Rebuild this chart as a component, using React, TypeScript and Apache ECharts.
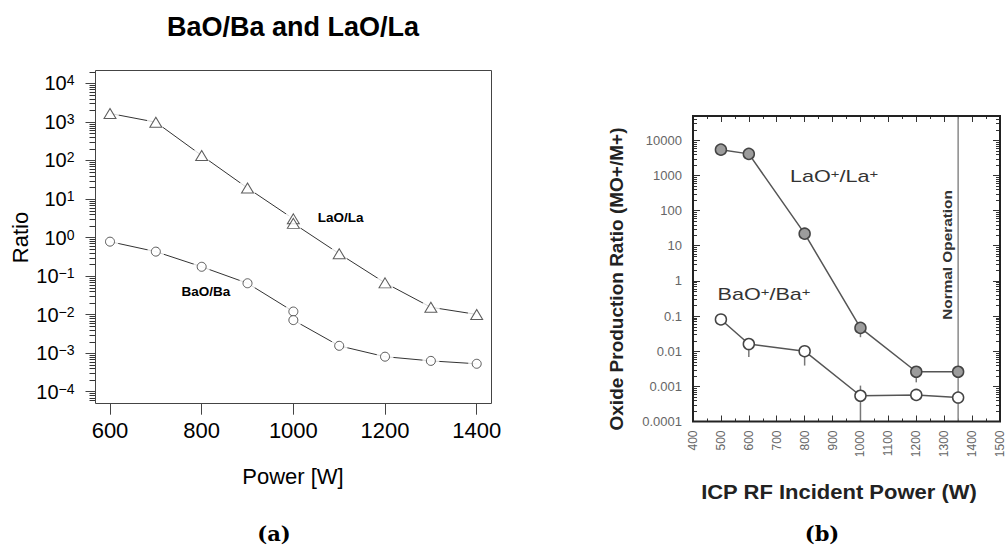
import React, { useEffect, useRef } from 'react';
import * as echarts from 'echarts';

// ---------- Panel (a): BaO/Ba and LaO/La ----------
const powerA = [600, 700, 800, 900, 1000, 1000, 1100, 1200, 1300, 1400];
const laoA = [1650, 980, 134, 19.2, 3.05, 2.33, 0.38, 0.0665, 0.0155, 0.0101];
const baoA = [0.78, 0.43, 0.174, 0.065, 0.012, 0.0072, 0.00155, 0.00081, 0.00063, 0.00053];
const xMinA = 600;
const xMaxA = 1400;
const yMinA = 1e-4;
const yMaxA = 1e4;
// minor log ticks shown inside the frame (slightly beyond the decade range)
const minorRangeA = [5.5e-5, 2.05e4];

// ---------- Panel (b): oxide production ratio ----------
const powerB = [500, 600, 800, 1000, 1200, 1350];
const laoB = [5400, 4100, 22, 0.046, 0.0026, 0.0026];
const baoB = [0.08, 0.016, 0.01, 0.00054, 0.00057, 0.00048];
// error bars: [power, low, high]
const laoBErr = [
  [1000, 0.025, 0.046],
  [1200, 0.0013, 0.0026],
];
const baoBErr = [
  [600, 0.0068, 0.016],
  [800, 0.0039, 0.013],
  [1000, 0.0001, 0.00105],
  [1200, 0.00044, 0.00057],
];
const normalOperationPower = [1350];
const xMinB = 400;
const xMaxB = 1500;
const yMinB = 1e-4;
const yMaxB = 49000;

const SANS = '"Liberation Sans", Arial, Helvetica, sans-serif';
const SERIF = '"DejaVu Serif", "Liberation Serif", serif';

const pairs = (xs: number[], ys: number[]) => xs.map((x, i) => [x, ys[i]]);

const minorTickValues = (lo: number, hi: number) => {
  const out: number[] = [];
  const e0 = Math.floor(Math.log10(lo));
  const e1 = Math.ceil(Math.log10(hi));
  for (let e = e0; e <= e1; e++) {
    for (let m = 2; m <= 9; m++) {
      const v = m * Math.pow(10, e);
      if (v >= lo && v <= hi) out.push(v);
    }
  }
  return out;
};

const decade = (v: number): number | null => {
  const e = Math.log10(v);
  const r = Math.round(e);
  return Math.abs(e - r) < 1e-6 ? r : null;
};

const superLabel = (v: number) => {
  const r = decade(v);
  if (r === null) return '';
  return `{b|10}{s|${r < 0 ? '\u2212' + -r : r}}`;
};

const plainLabel = (v: number) => {
  const r = decade(v);
  if (r === null) return '';
  return r >= 0 ? String(Math.pow(10, r)) : '0.' + '0'.repeat(-r - 1) + '1';
};

// vertical segment from [x, low] to [x, high]
const barRender = (color: string) => (params: any, api: any) => {
  const x = api.value(0);
  const p1 = api.coord([x, api.value(1)]);
  const p2 = api.coord([x, api.value(2)]);
  return {
    type: 'line',
    shape: { x1: p1[0], y1: p1[1], x2: p2[0], y2: p2[1] },
    style: { stroke: color, lineWidth: 1.5 },
  };
};

const txt = (
  x: number,
  y: number,
  text: string,
  size: number,
  opts: any = {}
) => ({
  type: 'text',
  x,
  y,
  z: 100,
  rotation: opts.rotation || 0,
  scaleX: opts.scaleX || 1,
  silent: true,
  style: {
    text,
    fontSize: size,
    fontWeight: opts.bold ? 'bold' : 'normal',
    fontFamily: opts.family || SANS,
    fill: opts.color || '#000',
    align: 'center',
    verticalAlign: 'middle',
    textAlign: 'center',
    textVerticalAlign: 'middle',
    rich: opts.rich,
  },
});

const supRich = (size: number, color: string) => ({
  a: { fontSize: size, fontFamily: SANS, fill: color, color, lineHeight: size, verticalAlign: 'bottom', padding: [6, 0, 0, 0] },
  s: { fontSize: Math.round(size * 0.7), fontFamily: SANS, fill: color, color, lineHeight: Math.round(size * 0.7), verticalAlign: 'top' },
});

export default function App() {
  const ref = useRef<HTMLDivElement>(null);

  useEffect(() => {
    if (!ref.current) return;
    const chart = echarts.init(ref.current, null, { renderer: 'svg' });

    const tickA = { color: '#444', width: 1 };
    const tickB = { color: '#333', width: 1 };

    const staticGraphics = [
      // boxes
      {
        type: 'rect', z: 50, silent: true,
        shape: { x: 95.5, y: 70.5, width: 396, height: 333 },
        style: { fill: 'none', stroke: '#444', lineWidth: 1 },
      },
      {
        type: 'rect', z: 50, silent: true,
        shape: { x: 693, y: 116, width: 307, height: 305.5 },
        style: { fill: 'none', stroke: '#222', lineWidth: 2 },
      },
      // panel (a) texts
      txt(293, 27, 'BaO/Ba and LaO/La', 27, { bold: true }),
      txt(20, 237.5, 'Ratio', 22, { rotation: Math.PI / 2 }),
      txt(293, 476.5, 'Power [W]', 22),
      txt(340.7, 217.3, 'LaO/La', 13.5, { bold: true }),
      txt(205.8, 291, 'BaO/Ba', 13.5, { bold: true }),
      txt(274, 533, '(a)', 21, { bold: true, family: SERIF }),
      // panel (b) texts
      txt(616, 279, 'Oxide Production Ratio (MO+/M+)', 19, { bold: true, rotation: Math.PI / 2, color: '#222' }),
      txt(839, 492, 'ICP RF Incident Power (W)', 20, { bold: true, color: '#222', scaleX: 1.1 }),
      txt(948, 255, 'Normal Operation', 12, { bold: true, rotation: Math.PI / 2, color: '#333', scaleX: 1.28 }),
      txt(834, 177, '{a|LaO}{s|+}{a|/La}{s|+}', 16, { color: '#333', scaleX: 1.35, rich: supRich(16, '#333') }),
      txt(764, 295, '{a|BaO}{s|+}{a|/Ba}{s|+}', 16, { color: '#333', scaleX: 1.35, rich: supRich(16, '#333') }),
      txt(822, 533, '(b)', 21, { bold: true, family: SERIF }),
    ];

    const option: any = {
      animation: false,
      backgroundColor: '#fff',
      grid: [
        { left: 110, top: 83.3, width: 366.7, height: 308.4, containLabel: false, outerBoundsMode: 'none' },
        { left: 693, top: 116, width: 307, height: 305.5, containLabel: false, outerBoundsMode: 'none' },
      ],
      xAxis: [
        {
          gridIndex: 0,
          type: 'value',
          min: xMinA,
          max: xMaxA,
          interval: 200,
          offset: 12,
          axisLine: { show: false },
          axisTick: { show: true, length: 11, lineStyle: tickA },
          axisLabel: { fontSize: 22, color: '#000', fontFamily: SANS, margin: 16, formatter: (v: number) => String(v) },
          splitLine: { show: false },
        },
        {
          gridIndex: 1,
          type: 'value',
          min: xMinB,
          max: xMaxB,
          interval: 100,
          position: 'bottom',
          axisLine: { show: false },
          axisTick: { show: true, inside: true, length: 6, lineStyle: tickB },
          minorTick: { show: true, splitNumber: 2, length: 3, lineStyle: tickB },
          axisLabel: { rotate: 90, fontSize: 12, color: '#666', fontFamily: SANS, margin: 9, formatter: (v: number) => String(v) },
          splitLine: { show: false },
        },
        {
          gridIndex: 1,
          type: 'value',
          min: xMinB,
          max: xMaxB,
          interval: 100,
          position: 'top',
          axisLine: { show: false },
          axisTick: { show: true, inside: true, length: 6, lineStyle: tickB },
          minorTick: { show: true, splitNumber: 2, length: 3, lineStyle: tickB },
          axisLabel: { show: false },
          splitLine: { show: false },
        },
      ],
      yAxis: [
        {
          gridIndex: 0,
          type: 'log',
          logBase: 10,
          min: yMinA,
          max: yMaxA,
          offset: 14.5,
          axisLine: { show: false },
          axisTick: { show: true, length: 10, lineStyle: tickA },
          axisLabel: {
            margin: 21,
            formatter: superLabel,
            rich: {
              b: { fontSize: 20, fontFamily: SANS, color: '#000', lineHeight: 20, verticalAlign: 'bottom', padding: [9, 0, 0, 0] },
              s: { fontSize: 14, fontFamily: SANS, color: '#000', lineHeight: 14, verticalAlign: 'top' },
            },
          },
          splitLine: { show: false },
          minorSplitLine: { show: false },
        },
        {
          gridIndex: 1,
          type: 'log',
          logBase: 10,
          min: yMinB,
          max: yMaxB,
          position: 'left',
          axisLine: { show: false },
          axisTick: { show: true, inside: true, length: 7, lineStyle: tickB },
          axisLabel: { formatter: plainLabel, fontSize: 13, color: '#666', fontFamily: SANS, margin: 11 },
          splitLine: { show: false },
          minorSplitLine: { show: false },
        },
        {
          gridIndex: 1,
          type: 'log',
          logBase: 10,
          min: yMinB,
          max: yMaxB,
          position: 'right',
          axisLine: { show: false },
          axisTick: { show: true, inside: true, length: 7, lineStyle: tickB },
          axisLabel: { show: false },
          splitLine: { show: false },
          minorSplitLine: { show: false },
        },
      ],
      series: [
        // ----- panel (a) -----
        {
          type: 'line', name: 'LaO/La', xAxisIndex: 0, yAxisIndex: 0,
          data: pairs(powerA, laoA), symbol: 'none',
          lineStyle: { color: '#333', width: 1 }, z: 2, clip: false, silent: true,
        },
        {
          type: 'line', name: 'BaO/Ba', xAxisIndex: 0, yAxisIndex: 0,
          data: pairs(powerA, baoA), symbol: 'none',
          lineStyle: { color: '#333', width: 1 }, z: 2, clip: false, silent: true,
        },
        {
          type: 'scatter', xAxisIndex: 0, yAxisIndex: 0,
          data: pairs(powerA, laoA), symbol: 'circle', symbolSize: 18,
          itemStyle: { color: '#fff' }, z: 3, clip: false, silent: true,
        },
        {
          type: 'scatter', xAxisIndex: 0, yAxisIndex: 0,
          data: pairs(powerA, baoA), symbol: 'circle', symbolSize: 17,
          itemStyle: { color: '#fff' }, z: 3, clip: false, silent: true,
        },
        {
          type: 'scatter', xAxisIndex: 0, yAxisIndex: 0,
          data: pairs(powerA, laoA), symbol: 'triangle', symbolSize: [12, 10],
          itemStyle: { color: '#fff', borderColor: '#333', borderWidth: 1 }, z: 4, clip: false, silent: true,
        },
        {
          type: 'scatter', xAxisIndex: 0, yAxisIndex: 0,
          data: pairs(powerA, baoA), symbol: 'circle', symbolSize: 9,
          itemStyle: { color: '#fff', borderColor: '#333', borderWidth: 1 }, z: 4, clip: false, silent: true,
        },
        // ----- panel (b) -----
        {
          type: 'custom', xAxisIndex: 1, yAxisIndex: 1,
          data: normalOperationPower.map((p) => [p, yMinB, yMaxB]),
          encode: { x: 0, y: [1, 2] },
          renderItem: barRender('#8a8a8a'), z: 2, clip: false, silent: true,
        },
        {
          type: 'custom', xAxisIndex: 1, yAxisIndex: 1,
          data: [...laoBErr, ...baoBErr],
          encode: { x: 0, y: [1, 2] },
          renderItem: barRender('#777'), z: 2, clip: false, silent: true,
        },
        {
          type: 'line', name: 'LaO+/La+', xAxisIndex: 1, yAxisIndex: 1,
          data: pairs(powerB, laoB), symbol: 'circle', symbolSize: 11, showSymbol: true,
          itemStyle: { color: '#9c9c9c', borderColor: '#444', borderWidth: 1.5 },
          lineStyle: { color: '#555', width: 1.5 }, z: 3, clip: false, silent: true,
        },
        {
          type: 'line', name: 'BaO+/Ba+', xAxisIndex: 1, yAxisIndex: 1,
          data: pairs(powerB, baoB), symbol: 'circle', symbolSize: 11, showSymbol: true,
          itemStyle: { color: '#fff', borderColor: '#444', borderWidth: 1.5 },
          lineStyle: { color: '#555', width: 1.5 }, z: 3, clip: false, silent: true,
        },
      ],
      graphic: staticGraphics,
    };

    chart.setOption(option);

    // minor log ticks, placed through the axes' own scales
    const tickLines: any[] = [];
    const addTicks = (gridIndex: number, xAt: number, values: number[], shift: number, len: number, color: string) => {
      values.forEach((v) => {
        const p = chart.convertToPixel({ gridIndex } as any, [xAt, v]) as number[];
        if (!p || !isFinite(p[1])) return;
        const y = Math.round(p[1]) + 0.5;
        const x0 = p[0] + shift;
        tickLines.push({
          type: 'line', z: 40, silent: true,
          shape: { x1: x0, y1: y, x2: x0 + len, y2: y },
          style: { stroke: color, lineWidth: 1 },
        });
      });
    };
    addTicks(0, xMinA, minorTickValues(minorRangeA[0], minorRangeA[1]), -14.5 - 6, 6, '#333');
    addTicks(1, xMinB, minorTickValues(yMinB, yMaxB), 0, 4, '#333');
    addTicks(1, xMaxB, minorTickValues(yMinB, yMaxB), -4, 4, '#333');

    chart.setOption({ graphic: [...staticGraphics, ...tickLines] }, { replaceMerge: ['graphic'] } as any);

    return () => chart.dispose();
  }, []);

  return (
    <div
      ref={ref}
      style={{ position: 'absolute', left: 0, top: 0, width: 1006, height: 549, background: '#fff' }}
    />
  );
}
